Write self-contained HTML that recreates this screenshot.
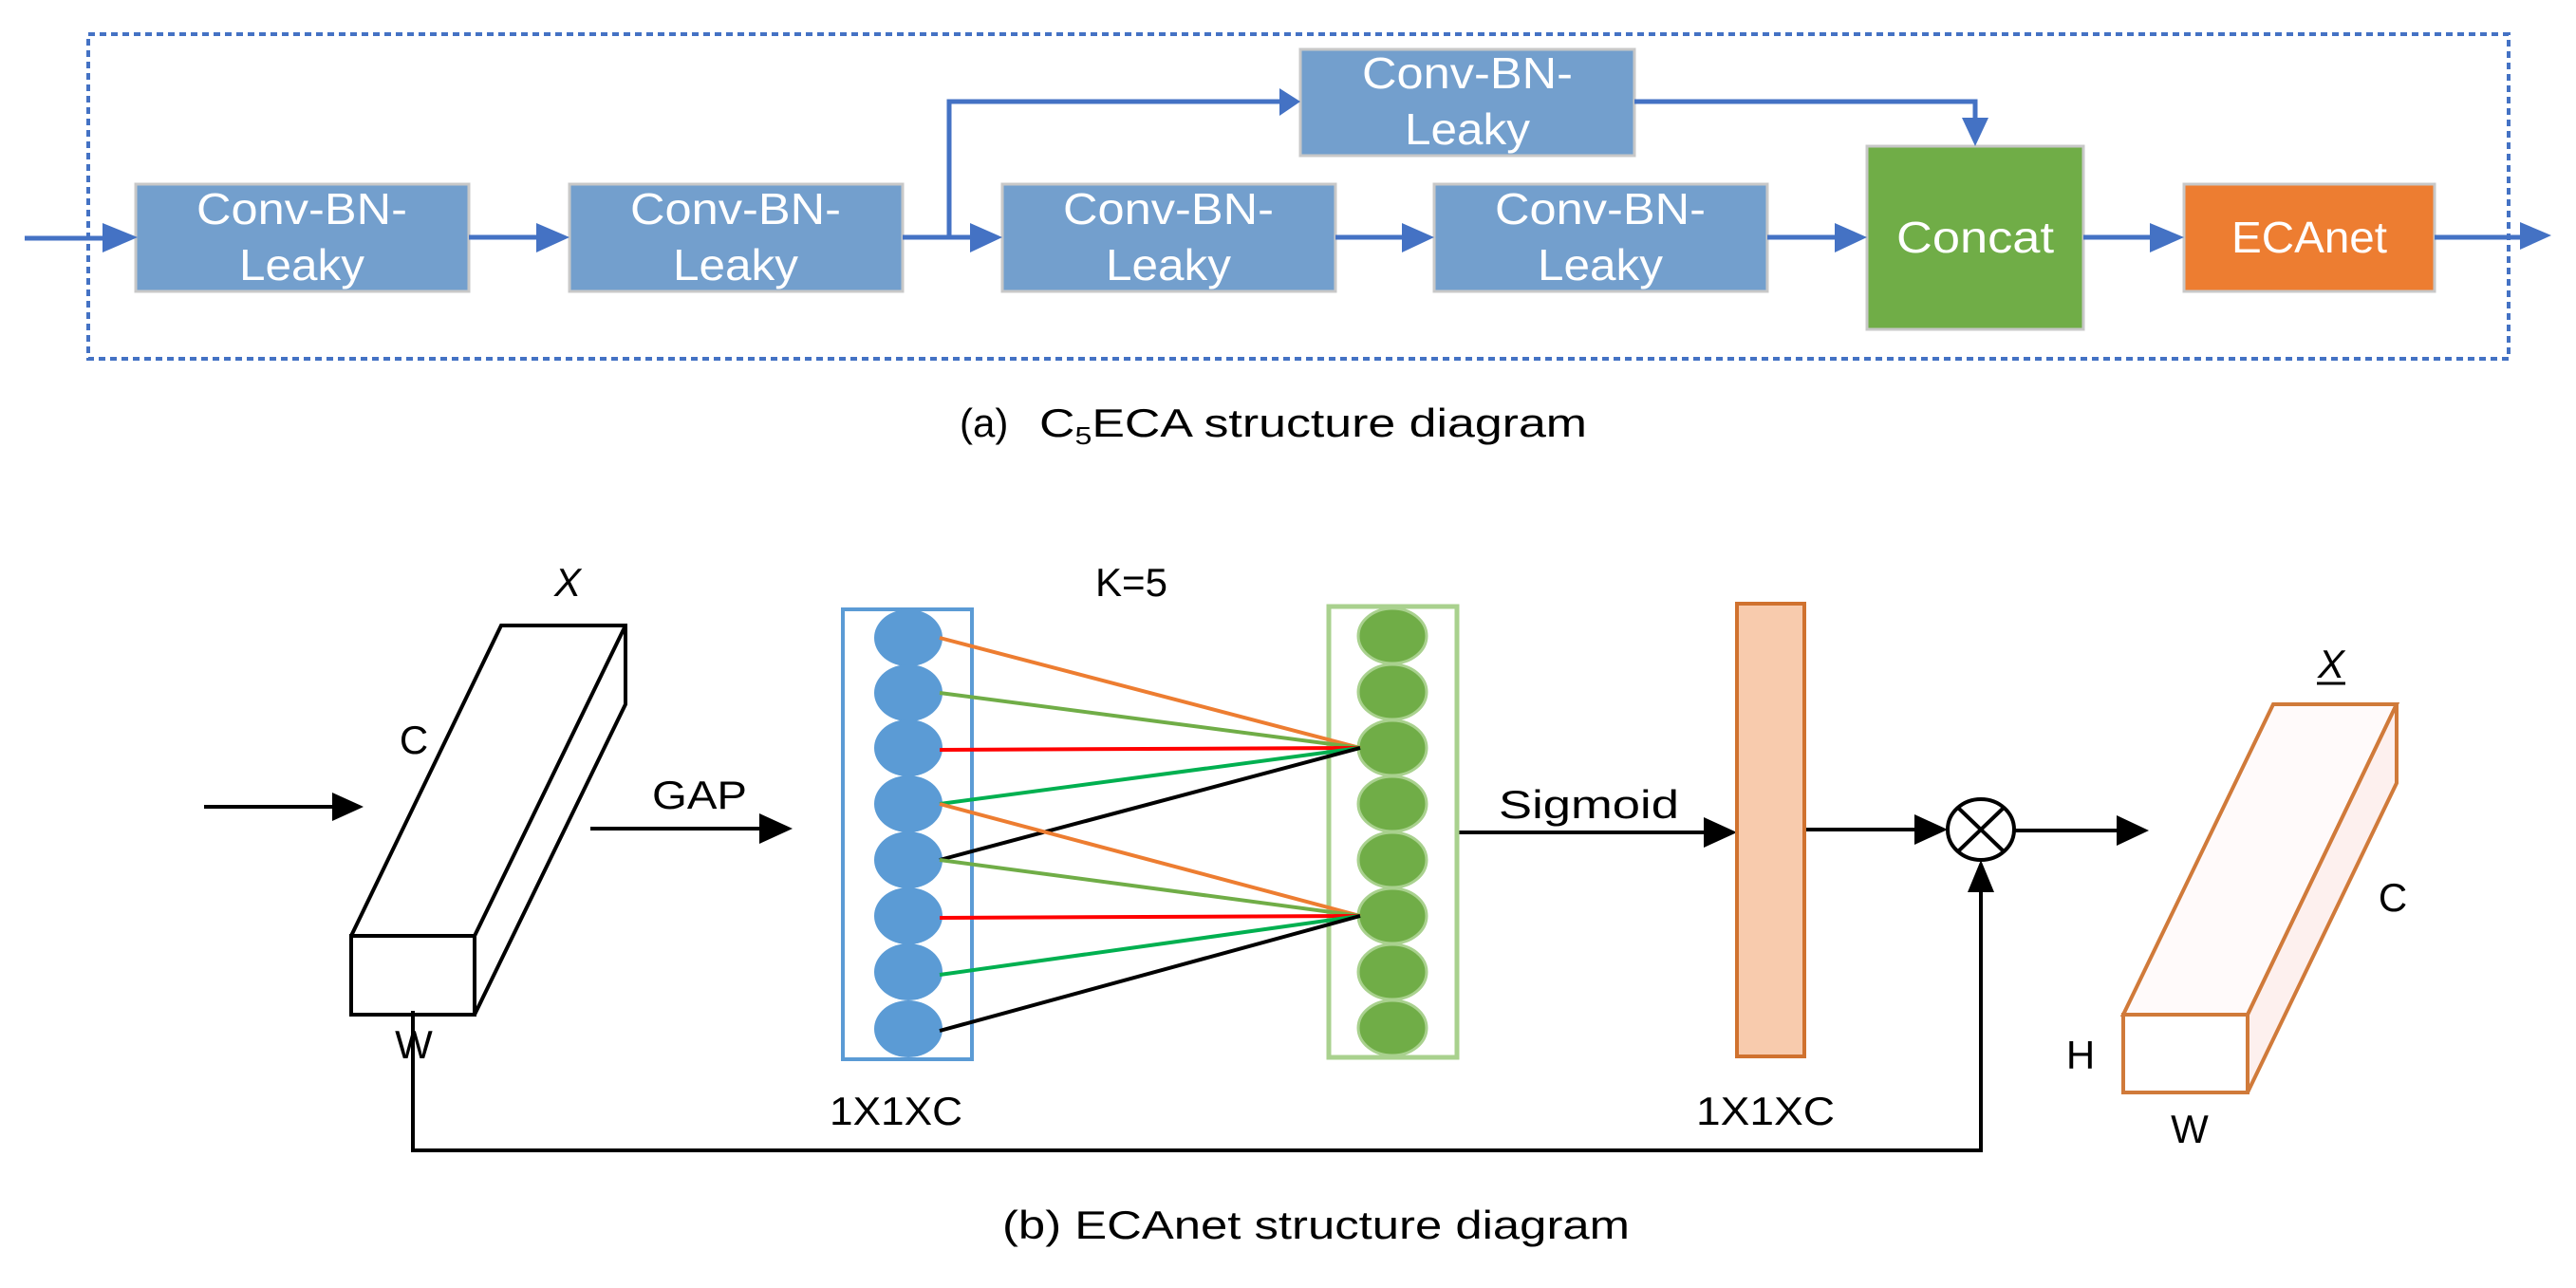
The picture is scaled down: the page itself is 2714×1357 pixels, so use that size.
<!DOCTYPE html>
<html><head><meta charset="utf-8"><style>
html,body{margin:0;padding:0;background:#fff;}
svg{display:block;}
text{font-family:"Liberation Sans",sans-serif;}
</style></head><body>
<svg width="2714" height="1357" viewBox="0 0 2714 1357" xmlns="http://www.w3.org/2000/svg">
<!-- dashed box -->
<rect x="93" y="36" width="2550" height="342" fill="none" stroke="#4472c4" stroke-width="4" stroke-dasharray="7,5"/>
<!-- boxes -->
<g fill="#739fcd" stroke="#c8c8c8" stroke-width="3">
<rect x="143" y="194" width="351" height="113"/>
<rect x="600" y="194" width="351" height="113"/>
<rect x="1056" y="194" width="351" height="113"/>
<rect x="1511" y="194" width="351" height="113"/>
<rect x="1370" y="52" width="352" height="112"/>
<rect x="1967" y="154" width="228" height="193" fill="#70ad47"/>
<rect x="2301" y="194" width="264" height="113" fill="#ed7d31"/>
</g>
<g fill="#fff" font-size="46" text-anchor="middle">
<text x="318" y="236" textLength="222" lengthAdjust="spacingAndGlyphs">Conv-BN-</text><text x="318" y="295" textLength="132" lengthAdjust="spacingAndGlyphs">Leaky</text>
<text x="775" y="236" textLength="222" lengthAdjust="spacingAndGlyphs">Conv-BN-</text><text x="775" y="295" textLength="132" lengthAdjust="spacingAndGlyphs">Leaky</text>
<text x="1231" y="236" textLength="222" lengthAdjust="spacingAndGlyphs">Conv-BN-</text><text x="1231" y="295" textLength="132" lengthAdjust="spacingAndGlyphs">Leaky</text>
<text x="1686" y="236" textLength="222" lengthAdjust="spacingAndGlyphs">Conv-BN-</text><text x="1686" y="295" textLength="132" lengthAdjust="spacingAndGlyphs">Leaky</text>
<text x="1546" y="93" textLength="222" lengthAdjust="spacingAndGlyphs">Conv-BN-</text><text x="1546" y="152" textLength="132" lengthAdjust="spacingAndGlyphs">Leaky</text>
<text x="2081" y="266" textLength="166" lengthAdjust="spacingAndGlyphs">Concat</text>
<text x="2433" y="266" textLength="164" lengthAdjust="spacingAndGlyphs">ECAnet</text>
</g>
<!-- blue arrows -->
<g stroke="#4472c4" stroke-width="5" fill="none">
<path d="M26 251 H120"/>
<path d="M494 250 H578"/>
<path d="M951 250 H1034"/>
<path d="M1407 250 H1489"/>
<path d="M1862 250 H1945"/>
<path d="M2195 250 H2279"/>
<path d="M2565 250 H2668"/>
<path d="M1000 250 V107 H1348"/>
<path d="M1722 107 H2081 V132"/>
</g>
<g fill="#4472c4">
<path d="M108 235 L145 250 L108 266Z"/>
<path d="M565 235 L600 250 L565 266Z"/>
<path d="M1022 235 L1056 250 L1022 266Z"/>
<path d="M1477 235 L1511 250 L1477 266Z"/>
<path d="M1933 235 L1967 250 L1933 266Z"/>
<path d="M2265 235 L2301 250 L2265 266Z"/>
<path d="M2655 234 L2688 248 L2655 263Z"/>
<path d="M1348 93 L1370 107 L1348 122Z"/>
<path d="M2067 124 L2081 154 L2095 124Z"/>
</g>
<text x="1011" y="460" font-size="42" fill="#000">(a)</text>
<text x="1095" y="460" font-size="42" fill="#000" textLength="577" lengthAdjust="spacingAndGlyphs">C<tspan font-size="26" dy="8">5</tspan><tspan dy="-8">ECA structure diagram</tspan></text>

<!-- left cuboid -->
<g stroke="#000" stroke-width="4" fill="none" stroke-linejoin="miter">
<rect x="370" y="986" width="130" height="83" fill="#fff"/>
<path d="M370 986 L528 659 H659 V742 L500 1069 M500 986 L659 659"/>
</g>
<text x="598" y="628" font-size="42" font-style="italic" text-anchor="middle">X</text>
<text x="436" y="794" font-size="42" text-anchor="middle">C</text>
<text x="436" y="1115" font-size="42" text-anchor="middle">W</text>
<!-- arrows black -->
<g stroke="#000" stroke-width="4" fill="none">
<path d="M215 850 H355"/>
<path d="M622 873 H805"/>
<path d="M1536 877 H1800"/>
<path d="M1901 874 H2022"/>
<path d="M2122 875 H2235"/>
<path d="M435 1065 V1212 H2087 V936"/>
</g>
<g fill="#000">
<path d="M350 835 L383 850 L350 865Z"/>
<path d="M800 857 L835 873 L800 889Z"/>
<path d="M1795 861 L1830 877 L1795 893Z"/>
<path d="M2017 858 L2052 874 L2017 890Z"/>
<path d="M2230 859 L2264 875 L2230 891Z"/>
<path d="M2073 940 L2087 906 L2101 940Z"/>
</g>
<text x="737" y="852" font-size="42" text-anchor="middle" textLength="100" lengthAdjust="spacingAndGlyphs">GAP</text>
<text x="1192" y="628" font-size="42" text-anchor="middle" textLength="76" lengthAdjust="spacingAndGlyphs">K=5</text>
<text x="1674" y="862" font-size="42" text-anchor="middle" textLength="190" lengthAdjust="spacingAndGlyphs">Sigmoid</text>
<text x="944" y="1185" font-size="42" text-anchor="middle" textLength="140" lengthAdjust="spacingAndGlyphs">1X1XC</text>
<text x="1860" y="1185" font-size="42" text-anchor="middle" textLength="146" lengthAdjust="spacingAndGlyphs">1X1XC</text>

<!-- blue column -->
<rect x="888" y="642" width="136" height="474" fill="none" stroke="#5b9bd5" stroke-width="4"/>
<g fill="#5b9bd5">
<ellipse cx="957" cy="672" rx="36" ry="30"/><ellipse cx="957" cy="730" rx="36" ry="30"/>
<ellipse cx="957" cy="788" rx="36" ry="30"/><ellipse cx="957" cy="847" rx="36" ry="30"/>
<ellipse cx="957" cy="906" rx="36" ry="30"/><ellipse cx="957" cy="965" rx="36" ry="30"/>
<ellipse cx="957" cy="1024" rx="36" ry="30"/><ellipse cx="957" cy="1084" rx="36" ry="30"/>
</g>
<!-- green column -->
<rect x="1400" y="639" width="135" height="475" fill="none" stroke="#a9d18e" stroke-width="5"/>
<g fill="#70ad47" stroke="#a9d18e" stroke-width="3">
<ellipse cx="1467" cy="670" rx="36" ry="29"/><ellipse cx="1467" cy="729" rx="36" ry="29"/>
<ellipse cx="1467" cy="788" rx="36" ry="29"/><ellipse cx="1467" cy="847" rx="36" ry="29"/>
<ellipse cx="1467" cy="906" rx="36" ry="29"/><ellipse cx="1467" cy="965" rx="36" ry="29"/>
<ellipse cx="1467" cy="1024" rx="36" ry="29"/><ellipse cx="1467" cy="1083" rx="36" ry="29"/>
</g>
<!-- connections -->
<g stroke-width="4">
<line x1="990" y1="672" x2="1433" y2="788" stroke="#ed7d31"/>
<line x1="990" y1="730" x2="1433" y2="788" stroke="#70ad47"/>
<line x1="990" y1="790" x2="1433" y2="788" stroke="#ff0000"/>
<line x1="990" y1="847" x2="1433" y2="788" stroke="#00b050"/>
<line x1="990" y1="906" x2="1433" y2="788" stroke="#000"/>
<line x1="990" y1="847" x2="1433" y2="965" stroke="#ed7d31"/>
<line x1="990" y1="906" x2="1433" y2="965" stroke="#70ad47"/>
<line x1="990" y1="967" x2="1433" y2="965" stroke="#ff0000"/>
<line x1="990" y1="1027" x2="1433" y2="965" stroke="#00b050"/>
<line x1="990" y1="1086" x2="1433" y2="965" stroke="#000"/>
</g>
<!-- orange bar -->
<rect x="1830" y="636" width="71" height="477" fill="#f8cbad" stroke="#d0722f" stroke-width="4"/>
<!-- multiply circle -->
<ellipse cx="2087" cy="874" rx="35" ry="32" fill="#fff" stroke="#000" stroke-width="4"/>
<path d="M2063 851 L2111 897 M2111 851 L2063 897" stroke="#000" stroke-width="4"/>
<!-- right cuboid -->
<g stroke="#d07a3a" stroke-width="4" fill="#fff">
<path d="M2237 1069 L2395 742 H2525 L2368 1069Z" fill="#fffafa"/>
<path d="M2368 1069 L2525 742 V825 L2368 1151Z" fill="#fdf0ee"/>
<rect x="2237" y="1069" width="131" height="82"/>
</g>
<text x="2456" y="714" font-size="42" font-style="italic" text-anchor="middle">X</text>
<line x1="2441" y1="720" x2="2471" y2="720" stroke="#000" stroke-width="3"/>
<text x="2521" y="960" font-size="42" text-anchor="middle">C</text>
<text x="2192" y="1126" font-size="42" text-anchor="middle">H</text>
<text x="2307" y="1204" font-size="42" text-anchor="middle">W</text>
<text x="1056" y="1305" font-size="42" textLength="661" lengthAdjust="spacingAndGlyphs">(b) ECAnet structure diagram</text>
</svg>
</body></html>
